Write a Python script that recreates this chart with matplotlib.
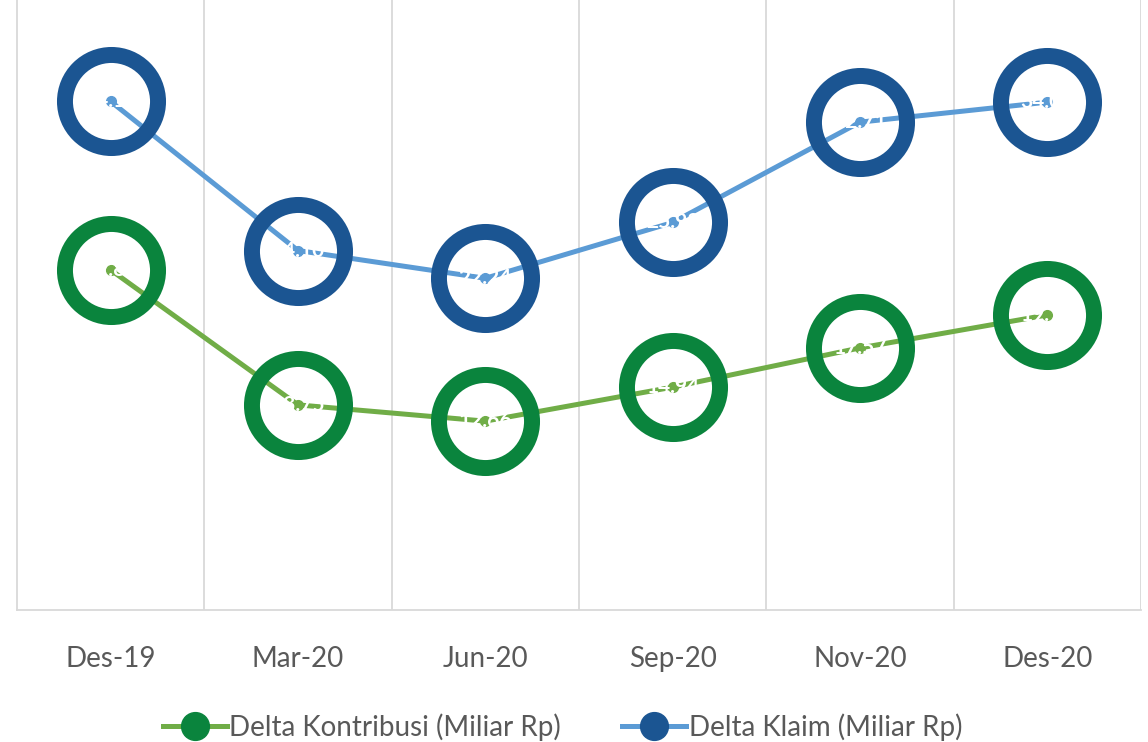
import matplotlib
matplotlib.use('Agg')
import matplotlib.pyplot as plt
from matplotlib.lines import Line2D

# --- Data --- #
periods = ['Des-19', 'Mar-20', 'Jun-20', 'Sep-20', 'Nov-20', 'Des-20']
kontribusi = [22.80, 13.75, 12.66, 14.94, 17.57, 19.78]
klaim = [34.10, 24.10, 22.24, 25.98, 32.71, 34.05]

green_line = '#70AD47'
green_ring = '#0A843D'
blue_line = '#5B9BD5'
blue_ring = '#1B5592'

plt.rcParams['font.family'] = ['Lato', 'DejaVu Sans']

fig = plt.figure(figsize=(11.48, 7.42), dpi=100)
ax = fig.add_axes([0.0148, 0.178, 0.9791, 0.822])

x = list(range(len(periods)))

for vals, lc, rc in [(kontribusi, green_line, green_ring), (klaim, blue_line, blue_ring)]:
	ax.plot(x, vals, color=lc, linewidth=3.6, marker='o', markersize=7,
			markerfacecolor=lc, markeredgecolor=lc, zorder=3, solid_capstyle='round')
	ax.plot(x, vals, linestyle='none', marker='o', markersize=67,
			markerfacecolor='none', markeredgecolor=rc, markeredgewidth=11.5, zorder=4)
	for i, v in enumerate(vals):
		ax.text(i, v, f'{v:.2f}', color='white', ha='center', va='center',
				fontsize=15, fontweight='bold', zorder=5)

# category separators
for b in [i + 0.5 for i in range(len(periods) - 1)] + [5.5]:
	ax.axvline(b, color='#D9D9D9', linewidth=1.3, zorder=1)

ax.set_xlim(-0.5, 5.5)
ax.set_ylim(0, 40.9)
ax.set_xticks(x)
ax.set_xticklabels(periods, fontsize=20, color='#595959')
ax.tick_params(axis='x', length=0, pad=26)
ax.set_yticks([])
for s in ['top', 'right']:
	ax.spines[s].set_visible(False)
ax.spines['left'].set_color('#D9D9D9')
ax.spines['bottom'].set_color('#D9D9D9')
ax.spines['left'].set_linewidth(1.3)
ax.spines['bottom'].set_linewidth(1.3)

handles = [
	Line2D([0], [0], color=green_line, linewidth=3.6, marker='o', markersize=20,
		   markerfacecolor=green_ring, markeredgecolor=green_ring),
	Line2D([0], [0], color=blue_line, linewidth=3.6, marker='o', markersize=20,
		   markerfacecolor=blue_ring, markeredgecolor=blue_ring),
]
fig.legend(handles, ['Delta Kontribusi (Miliar Rp)', 'Delta Klaim (Miliar Rp)'],
		   loc='center', bbox_to_anchor=(0.49, 0.02), ncol=2, frameon=False,
		   fontsize=20, labelcolor='#595959', handlelength=2.3, columnspacing=2.2,
		   handletextpad=0.1)

fig.savefig('out.png', dpi=100)
